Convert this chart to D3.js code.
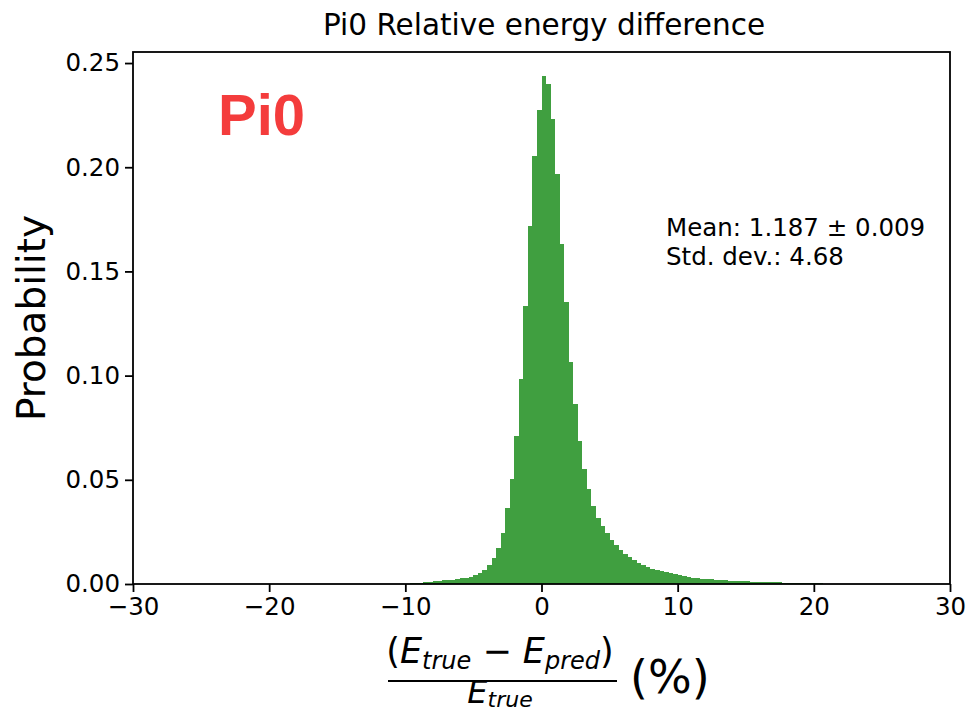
<!DOCTYPE html>
<html>
<head>
<meta charset="utf-8">
<script src="https://cdn.jsdelivr.net/npm/d3@7"></script>
<style>
  body { margin: 0; background: #fff; }
  text { font-family: "DejaVu Sans", sans-serif; fill: #000; }
</style>
</head>
<body>
<svg width="970" height="715"></svg>
<script>
// histogram of relative energy difference, density per bin (bin width 1/3 %)
const binStart = -29 / 3;
const binWidth = 1 / 3;
const probability = [
  0.0003, 0.0005, 0.0007, 0.0009, 0.0011, 0.0013, 0.0015, 0.0017, 0.0019, 0.0021,
  0.0024, 0.0027, 0.0030, 0.0035, 0.0042, 0.0051, 0.0065, 0.0090, 0.0125, 0.0175,
  0.0245, 0.0365, 0.0505, 0.0712, 0.0982, 0.1335, 0.1718, 0.2052, 0.2277,
  0.2437, 0.2400, 0.2232, 0.1968, 0.1630, 0.1352, 0.1065, 0.0862, 0.0685, 0.0552,
  0.0455, 0.0375, 0.0318, 0.0280, 0.0245, 0.0212, 0.0185, 0.0165, 0.0146, 0.0129,
  0.0113, 0.0101, 0.0090, 0.0081, 0.0072, 0.0067, 0.0062, 0.0057, 0.0053, 0.0048,
  0.0043, 0.0039, 0.0035, 0.0031, 0.0029, 0.0026, 0.0024, 0.0022, 0.0020, 0.0019,
  0.0017, 0.0016, 0.0015, 0.0014, 0.0013, 0.0012, 0.0011, 0.0011, 0.0010, 0.0009,
  0.0009, 0.0008, 0.0008, 0.0007, 0.0007, 0.0006, 0.0006, 0.0005, 0.0005, 0.0004,
  0.0004, 0.0003
];
const xTicks = [-30, -20, -10, 0, 10, 20, 30];
const yTicks = [0, 0.05, 0.10, 0.15, 0.20, 0.25];
const statsLines = ['Mean: 1.187 \u00b1 0.009', 'Std. dev.: 4.68'];

const bins = probability.map((p, i) => ({
  x0: binStart + i * binWidth,
  x1: binStart + (i + 1) * binWidth,
  p
}));

const plot = {left: 133, right: 950, top: 52, bottom: 584};

const svg = d3.select('svg');

const x = d3.scaleLinear().domain([-30, 30]).range([plot.left, plot.right]);
const y = d3.scaleLinear().domain([0, 0.2553]).range([plot.bottom, plot.top]);

svg.append('g')
  .selectAll('rect')
  .data(bins)
  .join('rect')
    .attr('x', d => x(d.x0))
    .attr('y', d => y(d.p))
    .attr('width', d => x(d.x1) - x(d.x0))
    .attr('height', d => y(0) - y(d.p))
    .attr('fill', '#409f40')
    .attr('shape-rendering', 'crispEdges');

const xAxis = svg.append('g')
  .attr('transform', `translate(0, ${plot.bottom})`)
  .call(d3.axisBottom(x).tickValues(xTicks).tickSize(8).tickPadding(6));
const yAxis = svg.append('g')
  .attr('transform', `translate(${plot.left}, 0)`)
  .call(d3.axisLeft(y).tickValues(yTicks).tickFormat(d3.format('.2f')).tickSize(8).tickPadding(5));

[xAxis, yAxis].forEach(a => {
  a.select('.domain').remove();
  a.selectAll('line').attr('stroke', '#000').attr('stroke-width', 1.8);
  a.selectAll('text').style('font-size', '24.5px').style('font-family', '"DejaVu Sans"');
});

svg.append('rect')
  .attr('x', plot.left).attr('y', plot.top)
  .attr('width', plot.right - plot.left).attr('height', plot.bottom - plot.top)
  .attr('fill', 'none').attr('stroke', '#000').attr('stroke-width', 1.8);

svg.append('text')
  .attr('x', 544).attr('y', 35)
  .attr('text-anchor', 'middle')
  .style('font-size', '29.5px')
  .text('Pi0 Relative energy difference');

svg.append('text')
  .attr('transform', `translate(45, ${(plot.top + plot.bottom) / 2}) rotate(-90)`)
  .attr('text-anchor', 'middle')
  .style('font-size', '39px')
  .text('Probability');

svg.append('text')
  .attr('x', 218).attr('y', 135)
  .style('font-family', '"Liberation Sans", Arial, sans-serif')
  .style('font-weight', 'bold')
  .style('font-size', '58px')
  .style('fill', '#f43c3c')
  .text('Pi0');

svg.append('g')
  .selectAll('text')
  .data(statsLines)
  .join('text')
    .attr('x', 666)
    .attr('y', (d, i) => 236 + i * 29)
    .style('font-size', '24.5px')
    .text(d => d);

// x label: (E_true - E_pred) / E_true (%)
const lab = svg.append('g');
const num = lab.append('text')
  .attr('x', 500).attr('y', 663)
  .attr('text-anchor', 'middle')
  .style('font-size', '35px');
num.append('tspan').text('(');
num.append('tspan').style('font-style', 'italic').text('E');
num.append('tspan').style('font-style', 'italic').style('font-size', '24px').attr('dy', 6).text('true');
num.append('tspan').attr('dy', -6).text(' \u2212 ');
num.append('tspan').style('font-style', 'italic').text('E');
num.append('tspan').style('font-style', 'italic').style('font-size', '24px').attr('dy', 6).text('pred');
num.append('tspan').attr('dy', -6).text(')');

lab.append('line')
  .attr('x1', 388).attr('x2', 617).attr('y1', 681).attr('y2', 681)
  .attr('stroke', '#000').attr('stroke-width', 2);

const den = lab.append('text')
  .attr('x', 500).attr('y', 703)
  .attr('text-anchor', 'middle')
  .style('font-size', '32px');
den.append('tspan').style('font-style', 'italic').text('E');
den.append('tspan').style('font-style', 'italic').style('font-size', '22px').attr('dy', 4).text('true');

lab.append('text')
  .attr('x', 630).attr('y', 693)
  .style('font-size', '46px')
  .text('(%)');
</script>
</body>
</html>
